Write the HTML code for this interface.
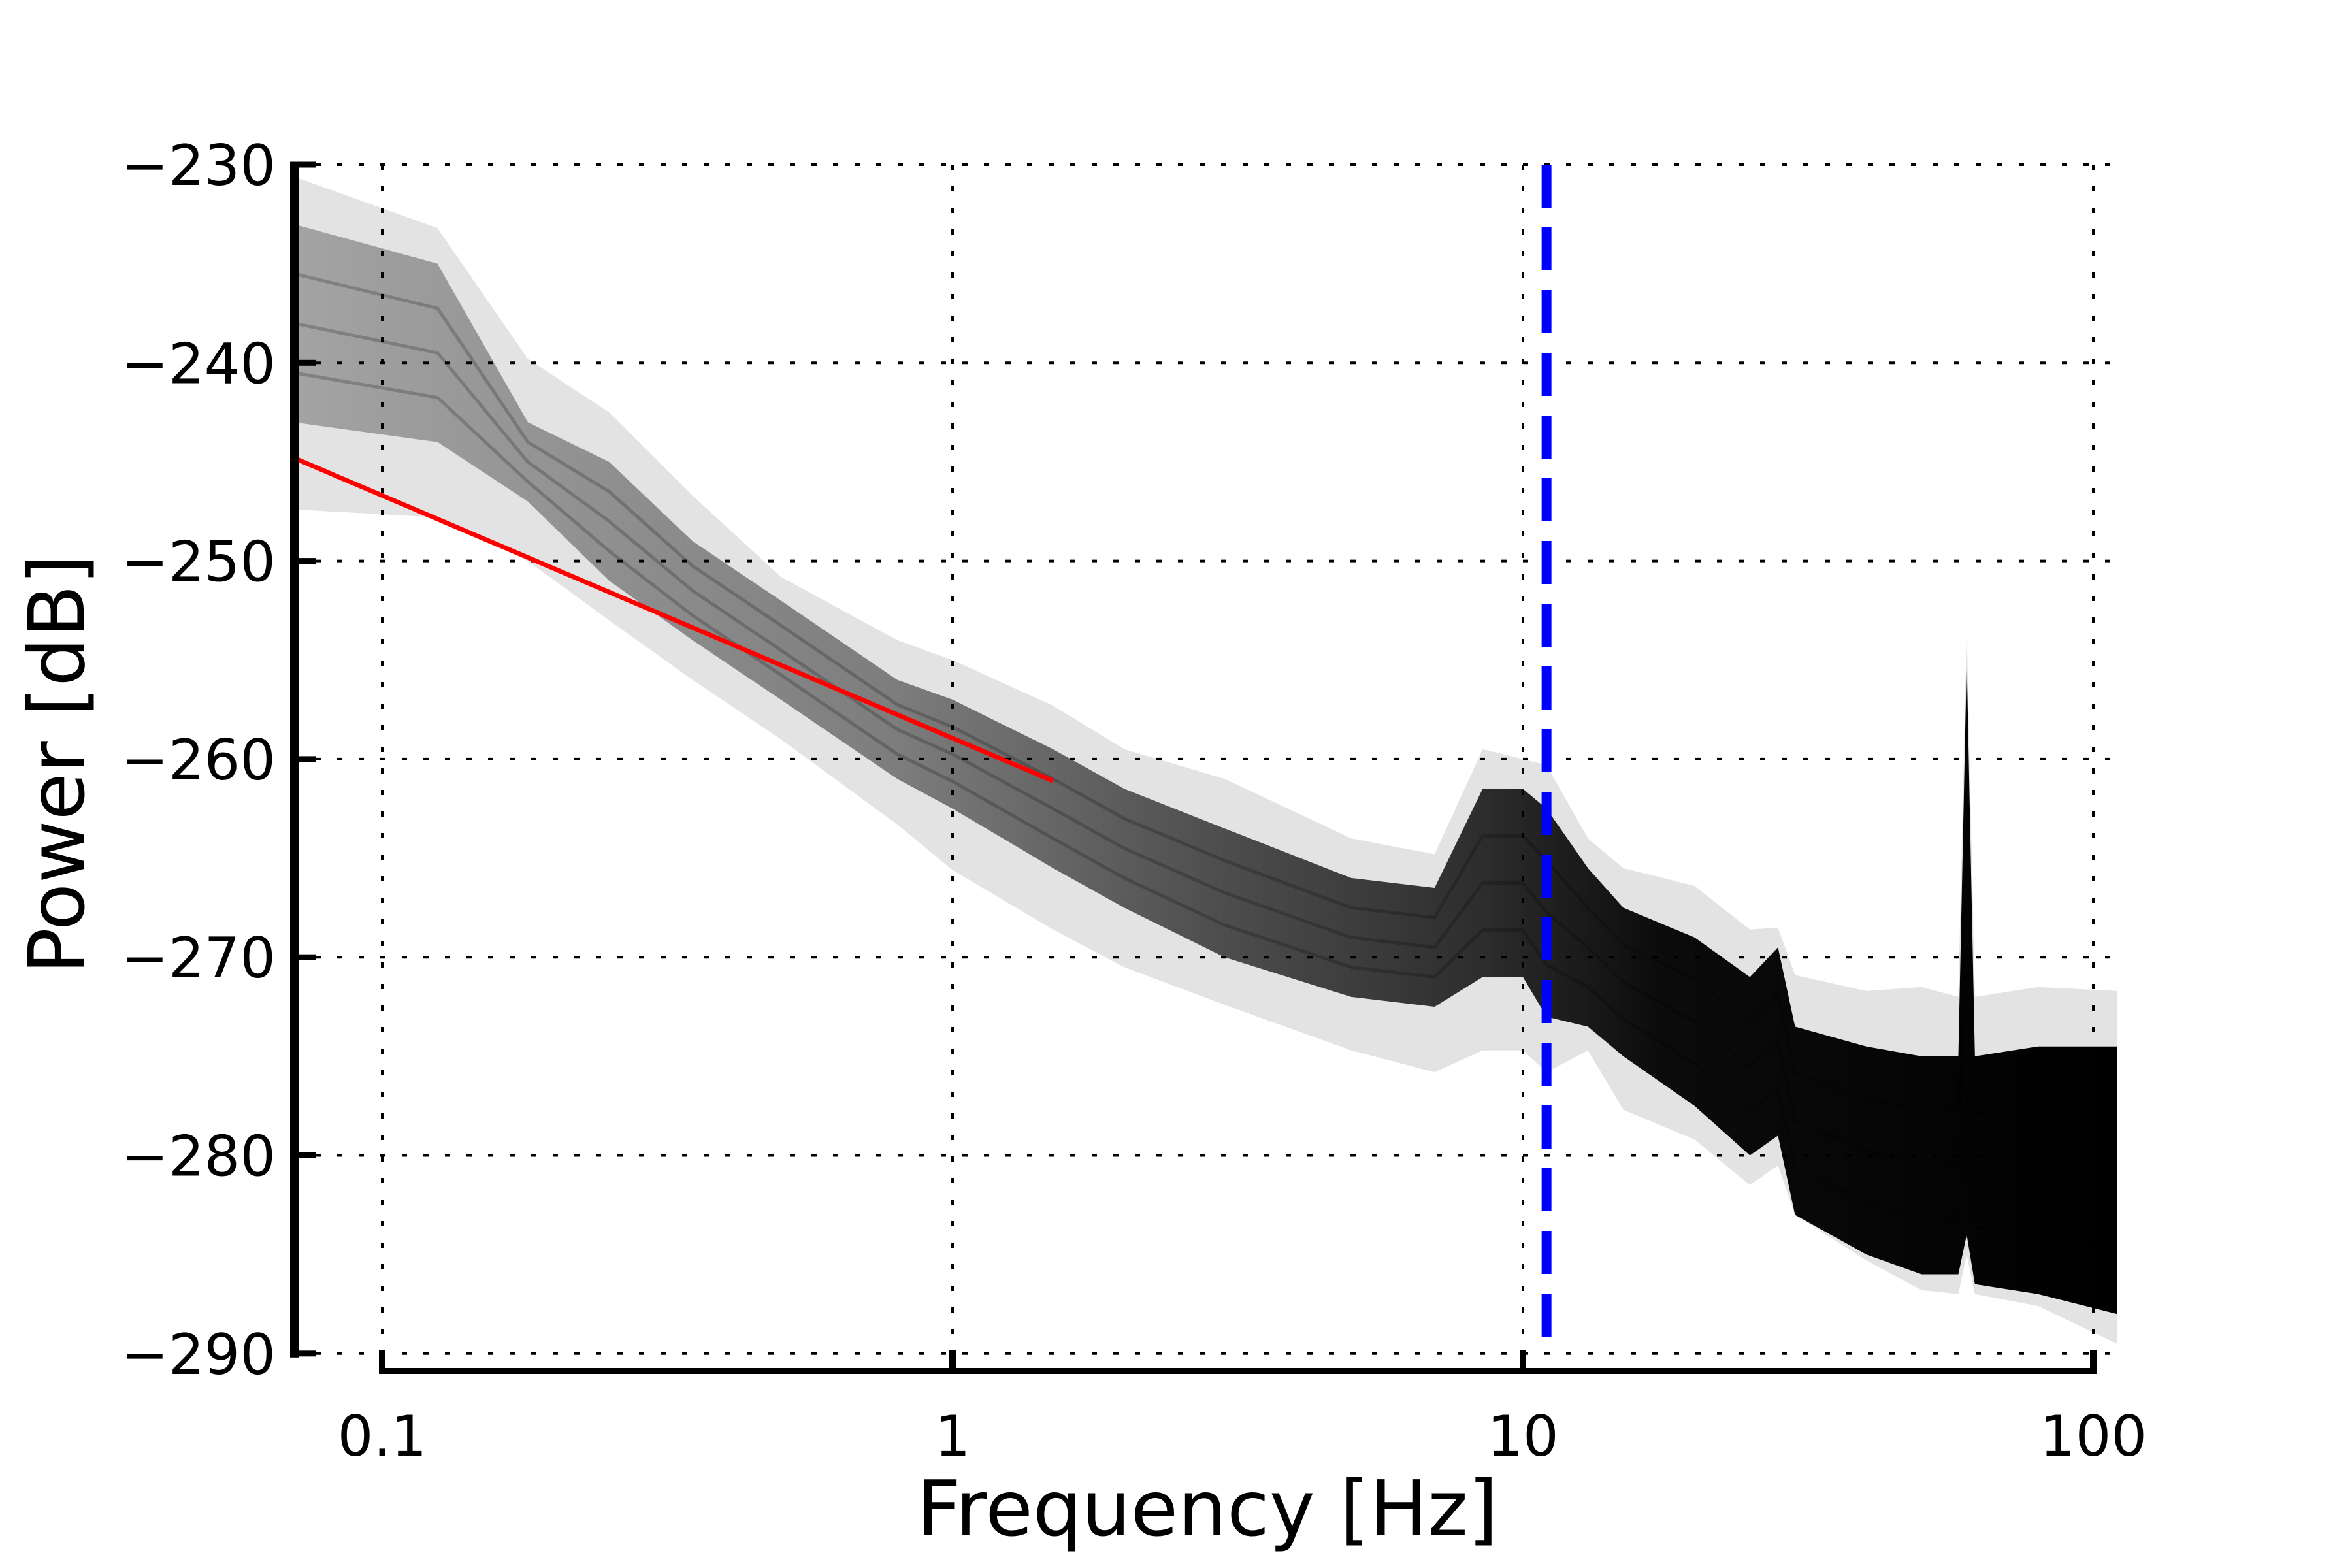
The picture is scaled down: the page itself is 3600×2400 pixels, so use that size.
<!DOCTYPE html>
<html><head><meta charset="utf-8"><style>
html,body{margin:0;padding:0;background:#fff;}
svg{display:block;font-family:"DejaVu Sans","Liberation Sans",sans-serif;}
</style></head><body>
<svg id="chart" width="3600" height="2400" viewBox="0 0 3600 2400" xmlns="http://www.w3.org/2000/svg">
<defs>
<linearGradient id="coreGrad" gradientUnits="userSpaceOnUse" x1="450" y1="0" x2="3239" y2="0">
<stop offset="0" stop-color="#000" stop-opacity="0.28"/>
<stop offset="0.33" stop-color="#000" stop-opacity="0.45"/>
<stop offset="0.5" stop-color="#000" stop-opacity="0.65"/>
<stop offset="0.65" stop-color="#000" stop-opacity="0.8"/>
<stop offset="0.75" stop-color="#000" stop-opacity="0.95"/>
<stop offset="1" stop-color="#000" stop-opacity="1"/>
</linearGradient>
</defs>
<g id="grid"></g>
<g id="bands"></g>
<g id="overlay"></g>
<g id="axes"></g>
</svg>
<script>
const freqs = [0.07,0.125,0.18,0.25,0.35,0.5,0.8,1,1.5,2,3,5,7,8.5,10,11,13,15,20,25,28,30,40,50,58,60,62,80,110];
const upperDb = [-230.6,-233.2,-239.8,-242.5,-246.7,-250.8,-254,-255,-257.3,-259.5,-261,-264,-264.8,-259.5,-260,-260.3,-264,-265.5,-266.4,-268.6,-268.5,-270.9,-271.7,-271.5,-272,-253.3,-272,-271.5,-271.7];
const lowerDb = [-247.4,-247.8,-250,-253,-256,-259,-263.3,-265.6,-268.6,-270.5,-272.4,-274.7,-275.8,-274.7,-274.7,-275.8,-274.7,-277.7,-279.2,-281.5,-280.5,-283,-285.3,-286.8,-287,-285,-287,-287.6,-289.5];
const coreUpperDb = [-233,-235,-243,-245,-249,-252,-256,-257,-259.5,-261.5,-263.5,-266,-266.5,-261.5,-261.5,-262.5,-265.5,-267.5,-269,-271,-269.5,-273.5,-274.5,-275,-275,-255,-275,-274.5,-274.5];
const coreLowerDb = [-243,-244,-247,-251,-254,-257,-261,-262.5,-265.5,-267.5,-270,-272,-272.5,-271,-271,-273,-273.5,-275,-277.5,-280,-279,-283,-285,-286,-286,-284,-286.5,-287,-288];
const fitFreqs = [0.07,1.5];
const fitDb = [-244.8,-261.1];
const markerFreq = 11;
const yTicks = [-230,-240,-250,-260,-270,-280,-290];
const yTickLabels = ["\u2212230","\u2212240","\u2212250","\u2212260","\u2212270","\u2212280","\u2212290"];
const xTicks = [0.1,1,10,100];
const xTickLabels = ["0.1","1","10","100"];

const NS="http://www.w3.org/2000/svg";
const X0=585, DEC=873, XL=450, XR=3239;
function xs(f){return X0+DEC*Math.log10(f/0.1);}
function ys(v){return 252+(-230-v)*30.33;}
function mk(tag,attrs,parent){const e=document.createElementNS(NS,tag);for(const k in attrs)e.setAttribute(k,attrs[k]);parent.appendChild(e);return e;}
const grid=document.getElementById('grid'),bands=document.getElementById('bands'),ov=document.getElementById('overlay'),ax=document.getElementById('axes');

yTicks.forEach(v=>{const l=mk('line',{x1:XL,x2:XR,y1:ys(v),y2:ys(v),stroke:'#000','stroke-width':4,'stroke-dasharray':'8 25'},grid);

});
xTicks.forEach(f=>{const l=mk('line',{x1:xs(f),x2:xs(f),y1:ys(-230),y2:ys(-290),stroke:'#000','stroke-width':4,'stroke-dasharray':'8 25'},grid);

});

function bandPath(up,lo){let d='';freqs.forEach((f,i)=>{d+=(i?'L':'M')+xs(f).toFixed(1)+' '+ys(up[i]).toFixed(1);});
for(let i=freqs.length-1;i>=0;i--)d+='L'+xs(freqs[i]).toFixed(1)+' '+ys(lo[i]).toFixed(1);return d+'Z';}
const outer=mk('path',{d:bandPath(upperDb,lowerDb),fill:'#000','fill-opacity':0.11},bands);


const core=mk('path',{d:bandPath(coreUpperDb,coreLowerDb),fill:'url(#coreGrad)'},bands);


[0.25,0.5,0.75].forEach(t=>{let d='';freqs.forEach((f,i)=>{const v=coreUpperDb[i]+(coreLowerDb[i]-coreUpperDb[i])*t;d+=(i?'L':'M')+xs(f).toFixed(1)+' '+ys(v).toFixed(1);});
const p=mk('path',{d:d,fill:'none',stroke:'#000','stroke-opacity':0.2,'stroke-width':5},bands);

});

const fit=mk('line',{x1:xs(fitFreqs[0]),y1:ys(fitDb[0]),x2:xs(fitFreqs[1]),y2:ys(fitDb[1]),stroke:'#f00','stroke-width':7},ov);


const bl=mk('line',{x1:xs(markerFreq),x2:xs(markerFreq),y1:ys(-230),y2:ys(-290),stroke:'#00f','stroke-width':15,'stroke-dasharray':'66 30'},ov);



const ysp=mk('rect',{x:444,y:248,width:13,height:ys(-290)-248+6,fill:'#000'},ax);


const xsp=mk('rect',{x:xs(0.1)-5,y:2094,width:xs(100)-xs(0.1)+11,height:9,fill:'#000'},ax);


yTicks.forEach((v,i)=>{const t=mk('rect',{x:444,y:ys(v)-4.5,width:39,height:9,fill:'#000'},ax);


const tx=mk('text',{x:422,y:ys(v)+31,'text-anchor':'end','font-size':86,fill:'#000'},ax);tx.textContent=yTickLabels[i];

});
xTicks.forEach((f,i)=>{const t=mk('rect',{x:xs(f)-5,y:2066,width:10,height:34,fill:'#000'},ax);


const tx=mk('text',{x:xs(f),y:2228,'text-anchor':'middle','font-size':86,fill:'#000'},ax);tx.textContent=xTickLabels[i];

});
const xl=mk('text',{x:1848,y:2350,'text-anchor':'middle','font-size':118,fill:'#000'},ax);xl.textContent='Frequency [Hz]';


const yl=mk('text',{x:0,y:0,'text-anchor':'middle','font-size':118,fill:'#000',transform:'translate(128,1170) rotate(-90)'},ax);yl.textContent='Power [dB]';


</script>
</body></html>
